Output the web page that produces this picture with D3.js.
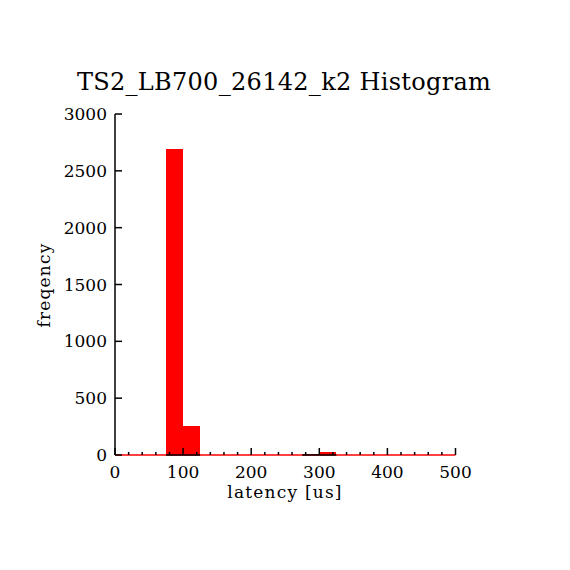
<!DOCTYPE html>
<html><head><meta charset="utf-8">
<script src="https://cdn.jsdelivr.net/npm/d3@7"></script>
<style>body{margin:0;background:#fff}svg{display:block}text{font-family:"DejaVu Serif",serif;fill:#000}</style>
</head><body>
<script>
const title = "TS2_LB700_26142_k2 Histogram";
const xLabel = "latency [us]";
const yLabel = "freqency";
const binStarts = [0,25,50,75,100,125,150,175,200,225,250,275,300,325,350,375,400,425,450,475];
const counts    = [0,0,0,2690,255,0,0,0,0,0,0,10,30,0,0,0,0,0,0,0];
const binWidth = 25;
const xTicks = [0,100,200,300,400,500];
const yTicks = [0,500,1000,1500,2000,2500,3000];

const W=570,H=570;
const svg=d3.select("body").append("svg").attr("width",W).attr("height",H);
const x=d3.scaleLinear().domain([0,500]).range([115,455.5]);
const y=d3.scaleLinear().domain([0,3000]).range([455,114]);

svg.append("text").attr("x",284).attr("y",90).attr("text-anchor","middle")
  .style("font-size","24px").style("letter-spacing","0.3px").text(title);

const bins = binStarts.map((s,i)=>({x0:s,x1:s+binWidth,c:counts[i]}));

svg.append("line").attr("x1",x(0)).attr("x2",x(500)).attr("y1",y(0)).attr("y2",y(0))
  .attr("stroke","#ff0000").attr("stroke-width",1.5);

svg.selectAll("rect.bar").data(bins.filter(d=>d.c>0)).enter().append("rect")
  .attr("x",d=>Math.round(x(d.x0))).attr("width",d=>Math.round(x(d.x1))-Math.round(x(d.x0)))
  .attr("y",d=>y(d.c)).attr("height",d=>y(0)-y(d.c)).attr("fill","#ff0000")
  .attr("shape-rendering","crispEdges");

svg.selectAll("line.under").data(bins.filter(d=>d.c>0)).enter().append("line")
  .attr("x1",d=>x(d.x0)).attr("x2",d=>x(d.x1)).attr("y1",y(0)).attr("y2",y(0))
  .attr("stroke","#000").attr("stroke-width",1.5);

const g=svg.append("g").attr("stroke","#000").attr("stroke-width",1.5);
g.append("line").attr("x1",x(0)).attr("x2",x(0)).attr("y1",y(0)).attr("y2",y(3000));
const minor=d3.range(0,501,20);
g.selectAll("line.mx").data(minor).enter().append("line")
  .attr("x1",d=>x(d)).attr("x2",d=>x(d)).attr("y1",y(0)).attr("y2",d=>y(0)-(d%100===0?7:3));
g.selectAll("line.my").data(yTicks).enter().append("line")
  .attr("x1",x(0)).attr("x2",x(0)+7).attr("y1",d=>y(d)).attr("y2",d=>y(d));

svg.selectAll("text.xt").data(xTicks).enter().append("text")
  .attr("x",d=>x(d)).attr("y",478).attr("text-anchor","middle").style("font-size","17px").text(d=>d);
svg.selectAll("text.yt").data(yTicks).enter().append("text")
  .attr("x",107).attr("y",d=>y(d)+6).attr("text-anchor","end").style("font-size","17px").text(d=>d);

svg.append("text").attr("x",285).attr("y",498).attr("text-anchor","middle")
  .style("font-size","17px").style("letter-spacing","1.2px").text(xLabel);
svg.append("text").attr("transform","translate(50,285) rotate(-90)").attr("text-anchor","middle")
  .style("font-size","17px").style("letter-spacing","1.2px").text(yLabel);
</script>
</body></html>
